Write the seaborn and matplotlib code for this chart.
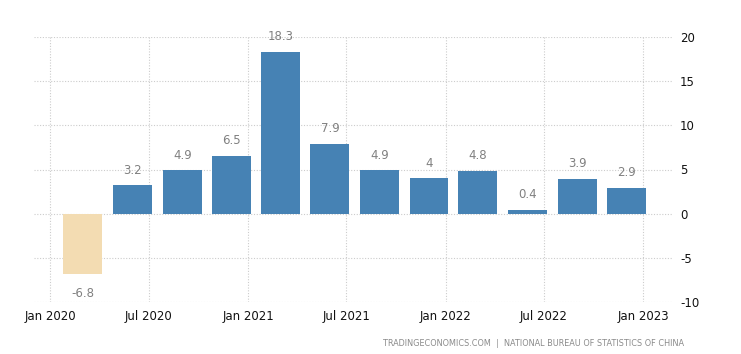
import pandas as pd
import numpy as np
import matplotlib
matplotlib.use('Agg')
import matplotlib.pyplot as plt
import matplotlib.dates as mdates
import seaborn as sns

# 中国GDP季度同比增长率 (%)
quarters = ['2020-03-01', '2020-06-01', '2020-09-01', '2020-12-01',
            '2021-03-01', '2021-06-01', '2021-09-01', '2021-12-01',
            '2022-03-01', '2022-06-01', '2022-09-01', '2022-12-01']
growth = [-6.8, 3.2, 4.9, 6.5, 18.3, 7.9, 4.9, 4.0, 4.8, 0.4, 3.9, 2.9]
value_labels = ['-6.8', '3.2', '4.9', '6.5', '18.3', '7.9', '4.9', '4', '4.8', '0.4', '3.9', '2.9']
y_ticks = [-10, -5, 0, 5, 10, 15, 20]
source_text = 'TRADINGECONOMICS.COM  |  NATIONAL BUREAU OF STATISTICS OF CHINA'

BLUE = '#4682b4'
WHEAT = '#f3dcb2'
GRID = '#cccccc'

sns.set_style('white')
plt.rcParams['font.family'] = ['DejaVu Sans']
plt.rcParams['axes.unicode_minus'] = False

df = pd.DataFrame({'date': pd.to_datetime(quarters), 'growth': growth})
df['x'] = mdates.date2num(df['date'])
df['sign'] = np.where(df['growth'] < 0, 'neg', 'pos')

fig = plt.figure(figsize=(7.41, 3.54), dpi=100)
ax = fig.add_axes([34 / 741, 1 - 302 / 354, (673 - 34) / 741, (302 - 37) / 354])

sns.barplot(data=df, x='x', y='growth', hue='sign', native_scale=True,
            palette={'neg': WHEAT, 'pos': BLUE}, dodge=False, legend=False,
            width=0.8, saturation=1, linewidth=0, ax=ax, zorder=3)

# 数值标签
for xv, yv, lab in zip(df['x'], df['growth'], value_labels):
    off = 11 if yv >= 0 else -14
    ax.annotate(lab, (xv, yv), xytext=(0, off), textcoords='offset points',
                ha='center', va='center', fontsize=8.5, color='#808080')

ax.xaxis.set_major_locator(mdates.MonthLocator(bymonth=[1, 7]))
ax.xaxis.set_major_formatter(mdates.DateFormatter('%b %Y'))
ax.set_xlim(mdates.date2num(pd.Timestamp('2019-12-02')),
            mdates.date2num(pd.Timestamp('2023-02-25')))
ax.set_ylim(-10, 20)
ax.set_yticks(y_ticks)
ax.yaxis.tick_right()
ax.tick_params(axis='both', length=0, labelsize=8.5, colors='#111111')
ax.tick_params(axis='y', pad=5)
ax.tick_params(axis='x', pad=6)
ax.set_xlabel('')
ax.set_ylabel('')

ax.grid(True, linestyle=(0, (1, 1.5)), color=GRID, linewidth=0.8, zorder=0)
ax.set_axisbelow(True)
for s in ax.spines.values():
    s.set_visible(False)

fig.text(684 / 741, 1 - 343 / 354, source_text, ha='right', va='center',
         fontsize=5.9, color='#8a8a8a')

fig.savefig('out.png', dpi=100)
